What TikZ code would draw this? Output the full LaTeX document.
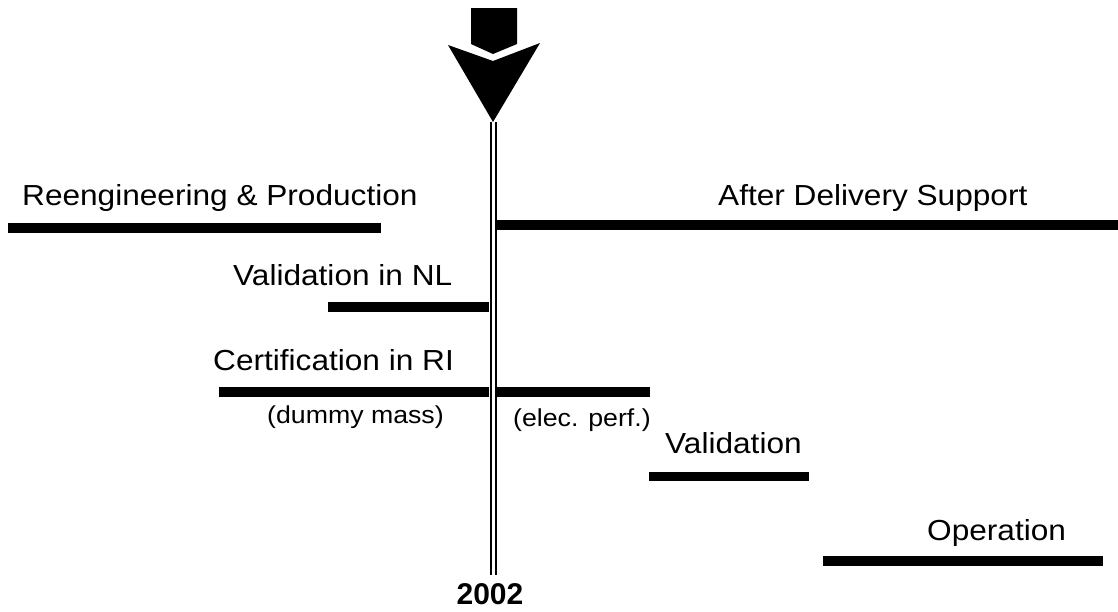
\documentclass[tikz,border=0pt]{standalone}
\usepackage{fontspec}
\setmainfont{Liberation Sans}[FakeStretch=1.09]
\newfontfamily\yearfont{Liberation Sans}[Scale=1]
\begin{document}
\begin{tikzpicture}[x=1pt,y=-1pt,
  phase/.style={anchor=base west,inner sep=0pt,font=\fontsize{29}{34}\selectfont},
  note/.style={anchor=base west,inner sep=0pt,font=\fontsize{24.5}{29}\selectfont},
  bar/.style={fill=black,draw=none}]
\useasboundingbox (0,0) rectangle (1118,611);

% milestone marker above the time axis
\fill[black] (471,8) -- (517,8) -- (517,44) -- (493,54) -- (471,44) -- cycle;
\fill[black] (448,45) -- (493,61) -- (540,43) -- (493,122) -- cycle;

% time axis (double line)
\draw[line width=1.7pt] (491,122) -- (491,575);
\draw[line width=1.7pt] (495.7,122) -- (495.7,575);
\node[inner sep=0pt,anchor=base,font=\yearfont\bfseries\fontsize{30}{36}\selectfont] (year) at (490,604) {2002};

% phase bars
\fill[bar] (8,223) rectangle (381,233);
\fill[bar] (497,220) rectangle (1118,230);
\fill[bar] (328,302) rectangle (489,312);
\fill[bar] (219,387) rectangle (489,397);
\fill[bar] (497,387) rectangle (650,397);
\fill[bar] (649,472) rectangle (809,481);
\fill[bar] (823,556) rectangle (1103,566);

% phase labels
\node[phase] (reeng) at (22,205) {Reengineering \& Production};
\node[phase] (ads) at (718,205) {After Delivery Support};
\node[phase] (valnl) at (233,285) {Validation in NL};
\node[phase] (certri) at (213,370) {Certification in RI};
\node[note] (dummy) at (267,423) {(dummy mass)};
\node[note] (elec) at (513,426) {(elec. perf.)};
\node[phase] (valid) at (665,453) {Validation};
\node[phase] (oper) at (927,540) {Operation};
\end{tikzpicture}
\end{document}
